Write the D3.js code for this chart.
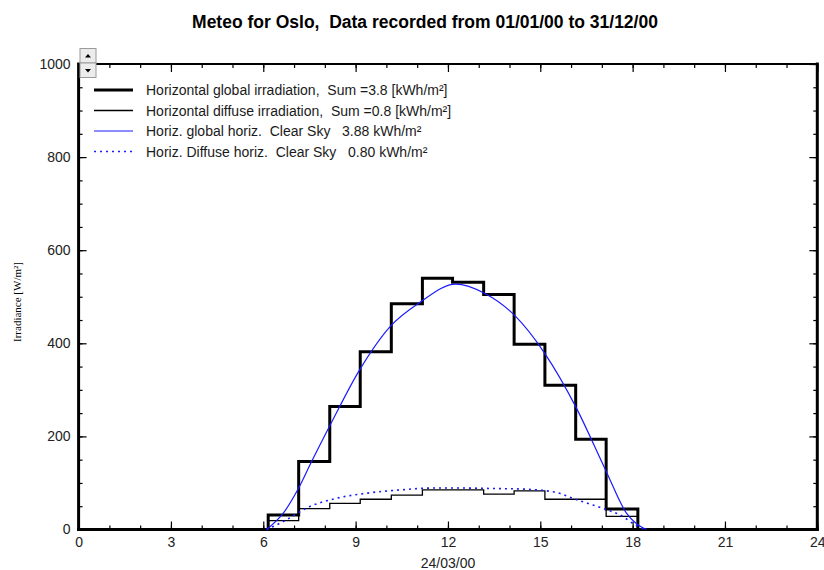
<!DOCTYPE html>
<html>
<head>
<meta charset="utf-8">
<script src="https://cdn.jsdelivr.net/npm/d3@7/dist/d3.min.js"></script>
<style>
  body { margin: 0; background: #fff; }
  text { font-family: Arial, "Liberation Sans", sans-serif; }
</style>
</head>
<body>
<div id="chart"></div>
<script>
// hourly bins (solar-time offset)
var binEdges = [6.16, 7.15, 8.16, 9.15, 10.16, 11.17, 12.15, 13.16, 14.15, 15.15, 16.15, 17.14, 18.17];
var globalIrr = [31, 146, 264, 382, 485, 540, 531, 505, 398, 310, 194, 44];
var diffuseIrr = [19, 45, 56, 65, 74, 85, 85, 76, 83, 65, 65, 28];

// clear sky model curves
var clearHours = [6.11, 6.65, 7.14, 7.57, 8.17, 9.13, 10.12, 11.09, 12.25, 13.2, 14.15, 15.15, 16.15, 17.12, 17.8, 18.45];
var clearGlobal = [0, 35, 88, 146, 224, 343, 436, 488, 527, 507, 461, 378, 264, 128, 35, 0];
var clearDiffHours = [6.11, 6.65, 7.5, 8.38, 9.36, 10.44, 11.52, 12.5, 13.5, 14.34, 15.42, 16.18, 17.05, 17.6, 18.13, 18.4];
var clearDiffuse = [0, 17, 49, 67, 78, 85, 89, 89, 88, 87, 81, 64, 45, 31, 8, 0];

var xTicks = [0, 3, 6, 9, 12, 15, 18, 21, 24];
var yTicks = [0, 200, 400, 600, 800, 1000];
var legendLabels = [
  "Horizontal global irradiation,  Sum =3.8 [kWh/m\u00b2]",
  "Horizontal diffuse irradiation,  Sum =0.8 [kWh/m\u00b2]",
  "Horiz. global horiz.  Clear Sky   3.88 kWh/m\u00b2",
  "Horiz. Diffuse horiz.  Clear Sky   0.80 kWh/m\u00b2"
];

var W = 824, H = 570;
var plotLeft = 78.6, plotRight = 817.3, plotTop = 64, plotBottom = 529.5;

var svg = d3.select("#chart").append("svg")
  .attr("width", W).attr("height", H);

var x = d3.scaleLinear().domain([0, 24]).range([plotLeft, plotRight]);
var y = d3.scaleLinear().domain([0, 1000]).range([plotBottom, plotTop]);

// title
svg.append("text")
  .attr("x", 425).attr("y", 28)
  .attr("text-anchor", "middle")
  .style("font-size", "17.5px").style("font-weight", "bold")
  .style("white-space", "pre")
  .attr("xml:space", "preserve")
  .text("Meteo for Oslo,  Data recorded from 01/01/00 to 31/12/00");

// minor ticks
var minorX = d3.range(0, 25, 1), minorY = d3.range(0, 1001, 50);
function styleAxis(g) {
  g.select(".domain").remove();
  g.selectAll(".tick line").attr("stroke", "#000").attr("stroke-width", 1.2);
  g.selectAll(".tick text").attr("fill", "#222").style("font-size", "14px")
    .style("font-family", "Arial, 'Liberation Sans', sans-serif");
}

svg.append("g").attr("transform", "translate(0," + plotBottom + ")")
  .call(d3.axisBottom(x).tickValues(minorX).tickSize(-4).tickFormat("")).call(styleAxis);
svg.append("g").attr("transform", "translate(0," + plotBottom + ")")
  .call(d3.axisBottom(x).tickValues(xTicks).tickSize(-8).tickPadding(8).tickFormat(d3.format("d"))).call(styleAxis);
svg.append("g").attr("transform", "translate(0," + plotTop + ")")
  .call(d3.axisTop(x).tickValues(minorX).tickSize(-4).tickFormat("")).call(styleAxis);
svg.append("g").attr("transform", "translate(0," + plotTop + ")")
  .call(d3.axisTop(x).tickValues(xTicks).tickSize(-8).tickFormat("")).call(styleAxis);

svg.append("g").attr("transform", "translate(" + plotLeft + ",0)")
  .call(d3.axisLeft(y).tickValues(minorY).tickSize(-4).tickFormat("")).call(styleAxis);
svg.append("g").attr("transform", "translate(" + plotLeft + ",0)")
  .call(d3.axisLeft(y).tickValues(yTicks).tickSize(-8).tickPadding(8).tickFormat(d3.format("d"))).call(styleAxis);
svg.append("g").attr("transform", "translate(" + plotRight + ",0)")
  .call(d3.axisRight(y).tickValues(minorY).tickSize(-4).tickFormat("")).call(styleAxis);
svg.append("g").attr("transform", "translate(" + plotRight + ",0)")
  .call(d3.axisRight(y).tickValues(yTicks).tickSize(-8).tickFormat("")).call(styleAxis);

// frame
var frame = svg.append("g").attr("stroke", "#000").attr("stroke-linecap", "square");
frame.append("line").attr("x1", plotLeft).attr("x2", plotRight).attr("y1", plotTop).attr("y2", plotTop).attr("stroke-width", 2);
frame.append("line").attr("x1", plotLeft).attr("x2", plotRight).attr("y1", plotBottom).attr("y2", plotBottom).attr("stroke-width", 3);
frame.append("line").attr("x1", plotLeft).attr("x2", plotLeft).attr("y1", plotTop).attr("y2", plotBottom).attr("stroke-width", 3);
frame.append("line").attr("x1", plotRight).attr("x2", plotRight).attr("y1", plotTop).attr("y2", plotBottom).attr("stroke-width", 3);

// axis titles
svg.append("text")
  .attr("x", 448).attr("y", 568)
  .attr("text-anchor", "middle")
  .attr("fill", "#222")
  .style("font-size", "14px")
  .text("24/03/00");

svg.append("text")
  .attr("transform", "translate(21,302) rotate(-90)")
  .attr("text-anchor", "middle")
  .style("font-family", "'Liberation Serif', 'Times New Roman', serif")
  .style("font-size", "11px")
  .text("Irradiance [W/m\u00b2]");

// step series
function stepPoints(vals) {
  var pts = [[binEdges[0], 0]];
  vals.forEach(function(v, i) { pts.push([binEdges[i], v]); });
  pts.push([binEdges[binEdges.length - 1], 0]);
  return pts;
}
var stepLine = d3.line().x(function(d) { return x(d[0]); }).y(function(d) { return y(d[1]); })
  .curve(d3.curveStepAfter);

svg.append("path").datum(stepPoints(diffuseIrr))
  .attr("d", stepLine).attr("fill", "none").attr("stroke", "#000").attr("stroke-width", 1.3);
svg.append("path").datum(stepPoints(globalIrr))
  .attr("d", stepLine).attr("fill", "none").attr("stroke", "#000").attr("stroke-width", 3)
  .attr("stroke-linejoin", "miter");

// clear sky curves
var smooth = d3.line().x(function(d) { return x(d[0]); }).y(function(d) { return y(d[1]); })
  .curve(d3.curveMonotoneX);

svg.append("path").datum(d3.zip(clearHours, clearGlobal))
  .attr("d", smooth).attr("fill", "none").attr("stroke", "#1a1aff").attr("stroke-width", 1.2);
svg.append("path").datum(d3.zip(clearDiffHours, clearDiffuse))
  .attr("d", smooth).attr("fill", "none").attr("stroke", "#1a1aff").attr("stroke-width", 1.6)
  .attr("stroke-dasharray", "2,4");

// legend
var legendStyles = [
  {stroke: "#000", width: 3, dash: null},
  {stroke: "#000", width: 1.3, dash: null},
  {stroke: "#1a1aff", width: 1.2, dash: null},
  {stroke: "#1a1aff", width: 1.6, dash: "2,4"}
];
var legend = svg.append("g").selectAll("g")
  .data(legendLabels).enter().append("g")
  .attr("transform", function(d, i) { return "translate(94," + (90 + i * 20.5) + ")"; });
legend.append("line")
  .attr("x1", 0).attr("x2", 39).attr("y1", 0).attr("y2", 0)
  .attr("stroke", function(d, i) { return legendStyles[i].stroke; })
  .attr("stroke-width", function(d, i) { return legendStyles[i].width; })
  .attr("stroke-dasharray", function(d, i) { return legendStyles[i].dash; });
legend.append("text")
  .attr("x", 52).attr("y", 5)
  .attr("fill", "#1a1a1a")
  .style("font-size", "14px")
  .attr("xml:space", "preserve")
  .style("white-space", "pre")
  .text(function(d) { return d; });

// scroll buttons
var btns = [{y: 48.5, up: true}, {y: 63, up: false}];
var btn = svg.append("g").selectAll("g").data(btns).enter().append("g")
  .attr("transform", function(d) { return "translate(80," + d.y + ")"; });
btn.append("rect")
  .attr("width", 16).attr("height", 14.5)
  .attr("fill", "#ececec").attr("stroke", "#9a9a9a").attr("stroke-width", 1);
btn.append("path")
  .attr("d", function(d) { return d.up ? "M5,9 L11,9 L8,5.5 Z" : "M5,6 L11,6 L8,9.5 Z"; })
  .attr("fill", "#000");
</script>
</body>
</html>
